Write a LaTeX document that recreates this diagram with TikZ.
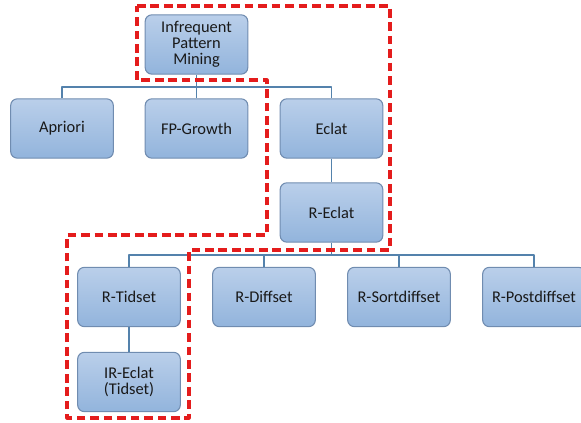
\documentclass[tikz,border=0pt]{standalone}
\usepackage{fontspec}
\setmainfont{Carlito}
\usetikzlibrary{calc}
\definecolor{boxtop}{RGB}{186,207,234}
\definecolor{boxbot}{RGB}{146,180,220}
\definecolor{boxline}{RGB}{112,140,176}
\definecolor{linkc}{RGB}{84,130,172}
\definecolor{hilite}{RGB}{228,28,28}
\begin{document}
\begin{tikzpicture}[x=0.75pt, y=-0.75pt, font=\fontsize{12.3}{12}\selectfont, line join=round,
		box/.style={draw=boxline, line width=0.8pt, rounded corners=5pt, top color=boxtop, bottom color=boxbot,
			minimum width=77pt, minimum height=44.5pt, align=center, text=black!90},
		link/.style={draw=linkc, line width=1.1pt},
		region/.style={draw=hilite, line width=2.4pt, dash pattern=on 6.5pt off 3.6pt}]
	\useasboundingbox (0,0) rectangle (581,423);
	% first level
	\node[box] (ipm) at (196.5,44.5) {Infrequent\\Pattern\\Mining};
	\node[box] (apriori) at (62,128.5) {Apriori};
	\node[box] (fpg) at (196.5,128.5) {FP-Growth};
	\node[box] (eclat) at (331.5,128.5) {Eclat};
	\node[box] (reclat) at (331.5,212.5) {R-Eclat};
	% second level
	\node[box] (rtid) at (129,297) {R-Tidset};
	\foreach \n/\x/\t in {rdiff/264/R-Diffset, rsort/399/R-Sortdiffset, rpost/534/R-Postdiffset}
		\node[box] (\n) at (\x,297) {\t};
	\node[box] (ireclat) at (129,382) {IR-Eclat\\(Tidset)};
	% connectors
	\coordinate (bus1) at (0,87);
	\coordinate (bus2) at (0,255);
	\draw[link] (apriori.north) -- (apriori.north |- bus1) -- (eclat.north |- bus1) -- (eclat.north);
	\draw[link] (ipm.south) -- (fpg.north);
	\draw[link] (eclat.south) -- (reclat.north);
	\draw[link] (rtid.north) -- (rtid.north |- bus2) -- (rpost.north |- bus2) -- (rpost.north);
	\foreach \n in {rdiff, rsort}
		\draw[link] (\n.north) -- (\n.north |- bus2);
	\draw[link] (reclat.south) -- (reclat.south |- bus2);
	\draw[link] (rtid.south) -- (ireclat.north);
	% highlighted path
	\draw[region] (137,6) -- (390,6) -- (390,250) -- (189,250) -- (189,418) -- (67,418)
		-- (67,235) -- (267,235) -- (267,80) -- (137,80) -- cycle;
\end{tikzpicture}
\end{document}
